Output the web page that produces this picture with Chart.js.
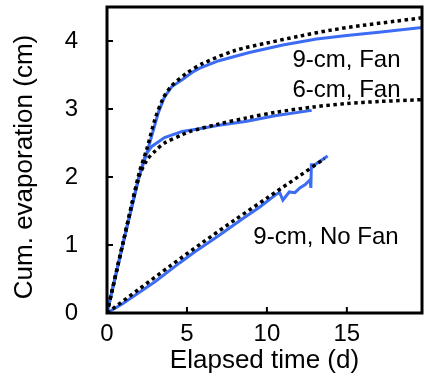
<!DOCTYPE html>
<html>
<head>
<meta charset="utf-8">
<script src="https://cdn.jsdelivr.net/npm/chart.js@4.4.1/dist/chart.umd.min.js"></script>
<style>
  html, body { margin: 0; padding: 0; background: #fff; }
  #chart { display: block; }
</style>
</head>
<body>
<canvas id="chart" width="424" height="380"></canvas>
<script>
// measured data, 9-cm column with fan
const fan9Days = [0, 1, 2, 2.5, 3.2, 3.6, 4.06, 4.7, 5.4, 5.8, 7, 8.9, 11, 13.1, 15, 17, 19.8];
const fan9Evap = [0, 1.02, 2.0, 2.36, 2.94, 3.18, 3.33, 3.43, 3.55, 3.6, 3.71, 3.83, 3.94, 4.03, 4.08, 4.13, 4.2];
// fitted model, 9-cm with fan
const fan9FitDays = [0, 1, 2, 2.5, 3, 3.5, 4, 5, 6, 8, 10, 12, 14, 16, 18, 20];
const fan9FitEvap = [0, 1.03, 2.05, 2.42, 2.85, 3.15, 3.33, 3.53, 3.67, 3.86, 3.97, 4.07, 4.16, 4.23, 4.29, 4.35];

// 6-cm column with fan
const fan6Days = [0, 1, 2, 2.4, 2.8, 3.6, 4.7, 5.5, 7, 8.75, 10.5, 12.8];
const fan6Evap = [0, 1.02, 2.0, 2.32, 2.45, 2.58, 2.67, 2.7, 2.76, 2.82, 2.9, 2.98];
const fan6FitDays = [0, 1, 2, 2.5, 3, 3.6, 4.7, 5.2, 7, 8.75, 10.5, 12.9, 15, 17, 20];
const fan6FitEvap = [0, 1.03, 2.0, 2.25, 2.38, 2.5, 2.62, 2.67, 2.78, 2.87, 2.95, 3.03, 3.08, 3.11, 3.14];

// 9-cm column, no fan
const noFanDays = [0, 1, 1.94, 3, 4.56, 5.5, 7, 8.5, 9.56, 10.6, 10.8, 11, 11.4, 11.75, 12.06, 12.4, 12.7, 12.75, 12.78, 13, 13.8];
const noFanEvap = [0, 0.14, 0.29, 0.46, 0.74, 0.9, 1.14, 1.39, 1.56, 1.75, 1.77, 1.66, 1.78, 1.77, 1.84, 1.89, 1.96, 1.84, 2.18, 2.18, 2.31];
const noFanFitDays = [0, 2, 4, 6, 8, 10, 12, 13.6];
const noFanFitEvap = [0, 0.35, 0.7, 1.04, 1.37, 1.69, 2.01, 2.27];

const xTicks = [0, 5, 10, 15];
const yTicks = [0, 1, 2, 3, 4];

// curve labels: text, x (d), y (cm) of the text baseline start
const curveLabels = [
    { text: '9-cm, Fan', x: 11.6, y: 3.62 },
    { text: '6-cm, Fan', x: 11.6, y: 3.18 },
    { text: '9-cm, No Fan', x: 9.15, y: 1.01 }
];

const BLUE = '#3d6cf4';
const FONT = "'Liberation Sans', Arial, Helvetica, sans-serif";

function pts(xs, ys) {
    return xs.map((x, i) => ({ x: x, y: ys[i] }));
}

function measured(xs, ys) {
    return {
        data: pts(xs, ys),
        borderColor: BLUE,
        borderWidth: 3,
        pointRadius: 0,
        tension: 0,
        order: 2
    };
}

function fitted(xs, ys) {
    return {
        data: pts(xs, ys),
        borderColor: '#000',
        borderWidth: 3.5,
        borderDash: [3.5, 3.5],
        pointRadius: 0,
        tension: 0.3,
        order: 1
    };
}

const framePlugin = {
    id: 'frame',
    afterDatasetsDraw(chart) {
        const { ctx, chartArea: a, scales } = chart;
        ctx.save();
        ctx.strokeStyle = '#000';
        ctx.lineWidth = 2;
        // inward ticks
        ctx.beginPath();
        xTicks.forEach(v => {
            const px = scales.x.getPixelForValue(v);
            ctx.moveTo(px, a.bottom);
            ctx.lineTo(px, a.bottom - 6);
        });
        yTicks.forEach(v => {
            const py = scales.y.getPixelForValue(v);
            ctx.moveTo(a.left, py);
            ctx.lineTo(a.left + 6, py);
        });
        ctx.stroke();
        ctx.lineWidth = 3;
        ctx.strokeRect(a.left, a.top, a.right - a.left, a.bottom - a.top);

        // curve labels
        ctx.fillStyle = '#000';
        ctx.font = '24px ' + FONT;
        ctx.textBaseline = 'alphabetic';
        ctx.textAlign = 'left';
        curveLabels.forEach(l => {
            ctx.fillText(l.text, scales.x.getPixelForValue(l.x), scales.y.getPixelForValue(l.y));
        });

        // y axis title
        ctx.translate(25, 167);
        ctx.rotate(-Math.PI / 2);
        ctx.font = '26px ' + FONT;
        ctx.textAlign = 'center';
        ctx.textBaseline = 'middle';
        ctx.fillText('Cum. evaporation (cm)', 0, 0);
        ctx.restore();
    }
};

new Chart(document.getElementById('chart'), {
    type: 'line',
    data: {
        datasets: [
            measured(fan9Days, fan9Evap),
            fitted(fan9FitDays, fan9FitEvap),
            measured(fan6Days, fan6Evap),
            fitted(fan6FitDays, fan6FitEvap),
            measured(noFanDays, noFanEvap),
            fitted(noFanFitDays, noFanFitEvap)
        ]
    },
    options: {
        responsive: false,
        animation: false,
        devicePixelRatio: 1,
        layout: { padding: { top: 7, right: 2, left: 0, bottom: 0 } },
        plugins: { legend: { display: false }, tooltip: { enabled: false } },
        scales: {
            x: {
                type: 'linear',
                min: 0,
                max: 19.7,
                afterFit: s => { s.height = 67; s.paddingLeft = 0; s.paddingRight = 0; },
                border: { display: false },
                grid: { display: false, drawTicks: false },
                ticks: {
                    stepSize: 5,
                    includeBounds: false,
                    padding: 7,
                    color: '#000',
                    maxRotation: 0,
                    font: { family: FONT, size: 24 }
                },
                title: {
                    display: true,
                    text: 'Elapsed time (d)',
                    color: '#000',
                    font: { family: FONT, size: 26 },
                    padding: { top: 0, bottom: 4 }
                }
            },
            y: {
                min: 0,
                max: 4.5,
                afterFit: s => { s.width = 107; s.paddingTop = 0; s.paddingBottom = 0; },
                border: { display: false },
                grid: { display: false, drawTicks: false },
                ticks: {
                    stepSize: 1,
                    includeBounds: false,
                    padding: 29,
                    color: '#000',
                    font: { family: FONT, size: 24 }
                }
            }
        }
    },
    plugins: [framePlugin]
});
</script>
</body>
</html>
